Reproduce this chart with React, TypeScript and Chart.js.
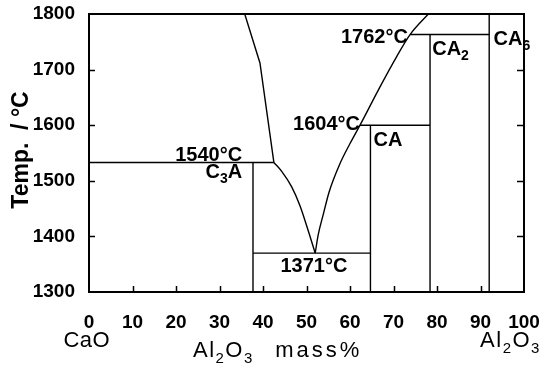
import React, { useEffect, useRef } from "react";
import { Chart, registerables } from "chart.js";
Chart.register(...registerables);

// ---- data (Al2O3 mass%, temperature °C) ----
const X_TICKS = [0, 10, 20, 30, 40, 50, 60, 70, 80, 90, 100];
const Y_TICKS = [1300, 1400, 1500, 1600, 1700, 1800];

const liquidusCaO = [[35.8, 1800], [39.3, 1712], [42.5, 1533]];
const liquidusC3A = [[42.5, 1533], [44.3, 1517], [46.6, 1489], [48.5, 1455], [50.0, 1420], [52.0, 1370]];
const liquidusAl = [[52.0, 1370], [52.7, 1403], [53.9, 1441], [55.2, 1480], [57.7, 1531], [60.0, 1567], [62.3, 1600], [66.9, 1669], [70.7, 1723], [73.8, 1763], [78.0, 1800]];
const line1540 = [[0, 1533], [42.5, 1533]];
const lineC3A = [[37.7, 1300], [37.7, 1533]];
const line1371 = [[37.7, 1370], [64.7, 1370]];
const lineCA = [[64.7, 1300], [64.7, 1600]];
const line1604 = [[62.3, 1600], [78.4, 1600]];
const lineCA2 = [[78.4, 1300], [78.4, 1763]];
const line1762 = [[73.8, 1763], [92.0, 1763]];
const lineCA6 = [[92.0, 1300], [92.0, 1800]];

type Seg = { t: string; sub?: boolean };
// labels anchored at data coordinates
const LABELS: { segs: Seg[]; x: number; y: number; align: "left" | "right" | "center" }[] = [
  { segs: [{ t: "1540°C" }], x: 35.2, y: 1536, align: "right" },
  { segs: [{ t: "C" }, { t: "3", sub: true }, { t: "A" }], x: 35.2, y: 1505, align: "right" },
  { segs: [{ t: "1371°C" }], x: 51.7, y: 1336, align: "center" },
  { segs: [{ t: "1604°C" }], x: 62.3, y: 1591, align: "right" },
  { segs: [{ t: "CA" }], x: 65.4, y: 1563, align: "left" },
  { segs: [{ t: "1762°C" }], x: 73.3, y: 1748, align: "right" },
  { segs: [{ t: "CA" }, { t: "2", sub: true }], x: 78.9, y: 1727, align: "left" },
  { segs: [{ t: "CA" }, { t: "6", sub: true }], x: 93.0, y: 1744, align: "left" },
];
const Y_TITLE = "Temp.  / °C";

const FONT = "'Liberation Sans', Arial, Helvetica, sans-serif";

function drawRich(ctx: CanvasRenderingContext2D, segs: Seg[], x: number, y: number, align: string, size: number, weight: string, spacing: number) {
  ctx.save();
  ctx.textBaseline = "alphabetic";
  ctx.textAlign = "left";
  (ctx as any).letterSpacing = spacing + "px";
  const widths = segs.map((s) => {
    ctx.font = `${weight} ${s.sub ? Math.round(size * 0.68) : size}px ${FONT}`;
    return ctx.measureText(s.t).width;
  });
  const total = widths.reduce((a, b) => a + b, 0);
  let cx = align === "right" ? x - total : align === "center" ? x - total / 2 : x;
  segs.forEach((s, i) => {
    ctx.font = `${weight} ${s.sub ? Math.round(size * 0.68) : size}px ${FONT}`;
    ctx.fillText(s.t, cx, y + (s.sub ? size * 0.25 : 0));
    cx += widths[i];
  });
  ctx.restore();
}

const decorPlugin = {
  id: "decor",
  afterDatasetsDraw(chart: any) {
    const { ctx, chartArea: a, scales } = chart;
    const xs = scales.x, ys = scales.y;
    ctx.save();
    ctx.fillStyle = "#000";
    ctx.strokeStyle = "#000";
    // frame
    ctx.lineWidth = 2;
    ctx.strokeRect(a.left, a.top, a.right - a.left, a.bottom - a.top);
    // inner ticks
    ctx.lineWidth = 1.5;
    ctx.beginPath();
    X_TICKS.slice(1, -1).forEach((v) => {
      const px = Math.round(xs.getPixelForValue(v)) + 0.5;
      ctx.moveTo(px, a.bottom);
      ctx.lineTo(px, a.bottom - 6);
    });
    Y_TICKS.slice(1, -1).forEach((v) => {
      const py = Math.round(ys.getPixelForValue(v)) + 0.5;
      ctx.moveTo(a.left, py);
      ctx.lineTo(a.left + 6, py);
      ctx.moveTo(a.right, py);
      ctx.lineTo(a.right - 7, py);
    });
    ctx.stroke();
    // annotations
    LABELS.forEach((l) => {
      drawRich(ctx, l.segs, xs.getPixelForValue(l.x), ys.getPixelForValue(l.y), l.align, 20, "bold", 0);
    });
    // y title
    ctx.save();
    ctx.translate(22, (a.top + a.bottom) / 2 - 3);
    ctx.rotate(-Math.PI / 2);
    ctx.font = `bold 23px ${FONT}`;
    ctx.textAlign = "center";
    ctx.textBaseline = "middle";
    ctx.fillText(Y_TITLE, 0, 0);
    ctx.restore();
    // bottom labels
    const al2o3: Seg[] = [{ t: "Al" }, { t: "2", sub: true }, { t: "O" }, { t: "3", sub: true }];
    drawRich(ctx, [{ t: "CaO" }], xs.getPixelForValue(-0.5), a.bottom + 55, "center", 22, "normal", 0.5);
    drawRich(ctx, al2o3, xs.getPixelForValue(23.9), a.bottom + 65, "left", 22, "normal", 1.5);
    drawRich(ctx, [{ t: "mass%" }], xs.getPixelForValue(42.8), a.bottom + 65, "left", 22, "normal", 3);
    drawRich(ctx, al2o3, xs.getPixelForValue(89.9), a.bottom + 55, "left", 22, "normal", 1.5);
    ctx.restore();
  },
};

const toXY = (arr: number[][]) => arr.map(([x, y]) => ({ x, y }));

export default function App() {
  const ref = useRef<HTMLCanvasElement>(null);
  useEffect(() => {
    if (!ref.current) return;
    const line = (d: number[][], smooth = false) => ({
      data: toXY(d),
      showLine: true,
      borderColor: "#000",
      borderWidth: 1.4,
      pointRadius: 0,
      cubicInterpolationMode: smooth ? "monotone" : "default",
      tension: 0,
      fill: false,
    });
    const tickFont = { family: FONT, size: 19, weight: "bold" as const };
    const zeroPad = (s: any) => {
      s.paddingTop = 0;
      s.paddingBottom = 0;
      s.paddingLeft = 0;
      s.paddingRight = 0;
    };
    const chart = new Chart(ref.current, {
      type: "scatter",
      data: {
        datasets: [
          line(liquidusCaO),
          line(liquidusC3A, true),
          line(liquidusAl, true),
          line(line1540),
          line(lineC3A),
          line(line1371),
          line(lineCA),
          line(line1604),
          line(lineCA2),
          line(line1762),
          line(lineCA6),
        ],
      },
      options: {
        responsive: false,
        animation: false,
        layout: { padding: { top: 14, right: 22, left: 0, bottom: 0 } },
        plugins: { legend: { display: false }, tooltip: { enabled: false } },
        scales: {
          x: {
            type: "linear",
            min: 0,
            max: 100,
            grid: { display: false },
            border: { display: false },
            afterBuildTicks: (s: any) => {
              s.ticks = X_TICKS.map((v) => ({ value: v }));
            },
            afterFit: (s: any) => {
              s.height = 75;
              zeroPad(s);
            },
            ticks: { font: tickFont, color: "#000", padding: 11, maxRotation: 0, autoSkip: false, callback: (v: any) => String(v) },
          },
          y: {
            type: "linear",
            min: 1300,
            max: 1800,
            grid: { display: false },
            border: { display: false },
            afterBuildTicks: (s: any) => {
              s.ticks = Y_TICKS.map((v) => ({ value: v }));
            },
            afterFit: (s: any) => {
              s.width = 89;
              zeroPad(s);
            },
            ticks: { font: tickFont, color: "#000", padding: 6, autoSkip: false, callback: (v: any) => String(v) },
          },
        },
      },
      plugins: [decorPlugin],
    } as any);
    return () => chart.destroy();
  }, []);
  return (
    <div style={{ position: "absolute", left: 0, top: 0, width: 546, height: 367, background: "#fff" }}>
      <canvas ref={ref} width={546} height={367} style={{ display: "block" }} />
    </div>
  );
}
